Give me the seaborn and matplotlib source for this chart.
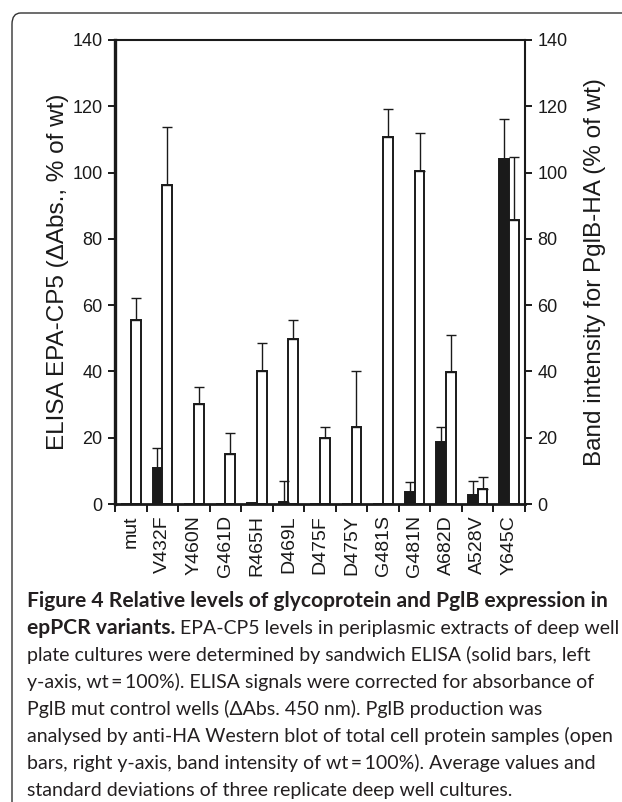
import numpy as np
import pandas as pd
import matplotlib
matplotlib.use("Agg")
from matplotlib import pyplot as plt
from matplotlib.patches import FancyBboxPatch
import seaborn as sns

# values
variants = ["mut", "V432F", "Y460N", "G461D", "R465H", "D469L", "D475F",
            "D475Y", "G481S", "G481N", "A682D", "A528V", "Y645C"]
elisa = [0.0, 11.0, 0.0, 0.0, 0.3, 0.6, 0.0, 0.0, 0.0, 3.6, 18.8, 2.7, 104.2]
elisa_sd = [np.nan, 5.8, np.nan, np.nan, np.nan, 6.2, np.nan, np.nan, np.nan,
            3.1, 4.5, 4.3, 12.1]
band = [55.6, 96.2, 30.1, 15.0, 40.2, 49.8, 19.9, 23.1, 110.8, 100.5, 39.9,
        4.5, 85.8]
band_sd = [6.6, 17.7, 5.3, 6.3, 8.5, 5.8, 3.2, 17.1, 8.5, 11.3, 11.2, 3.5, 18.9]
y_ticks = [0, 20, 40, 60, 80, 100, 120, 140]

left_label = "ELISA EPA-CP5 (\u0394Abs., % of wt)"
right_label = "Band intensity for PglB-HA (% of wt)"

caption_title = "Figure 4 Relative levels of glycoprotein and PglB expression in"
caption_bold2 = "epPCR variants."
caption_rest = [
    " EPA-CP5 levels in periplasmic extracts of deep well",
    "plate cultures were determined by sandwich ELISA (solid bars, left",
    "y-axis, wt\u2009=\u2009100%). ELISA signals were corrected for absorbance of",
    "PglB mut control wells (\u0394Abs. 450 nm). PglB production was",
    "analysed by anti-HA Western blot of total cell protein samples (open",
    "bars, right y-axis, band intensity of wt\u2009=\u2009100%). Average values and",
    "standard deviations of three replicate deep well cultures.",
]

sns.set_theme(style="ticks")
plt.rcParams["font.family"] = ["Liberation Sans", "DejaVu Sans"]

ink = "#1a1a1a"
W, H = 622, 802

df = pd.DataFrame({
    "variant": variants * 2,
    "value": elisa + band,
    "assay": ["ELISA"] * len(variants) + ["Band"] * len(variants),
})

fig = plt.figure(figsize=(W / 100, H / 100), dpi=100)
ax = fig.add_axes([115 / W, 1 - 504 / H, 410 / W, 464 / H])

sns.barplot(data=df, x="variant", y="value", hue="assay",
            hue_order=["ELISA", "Band"],
            palette={"ELISA": ink, "Band": "white"},
            width=0.62, edgecolor=ink, linewidth=1.4,
            errorbar=None, legend=False, ax=ax)

# upper-only SD bars on top of every bar
bar_sets = list(ax.containers)[:2]
for cont, sd in zip(bar_sets, [elisa_sd, band_sd]):
    xs = np.array([p.get_x() + p.get_width() / 2 for p in cont])
    hs = np.array([p.get_height() for p in cont])
    sd = np.array(sd, dtype=float)
    ok = ~np.isnan(sd)
    ax.errorbar(xs[ok], hs[ok], yerr=[np.zeros(ok.sum()), sd[ok]],
                fmt="none", ecolor=ink, elinewidth=1.0, capsize=3.4,
                capthick=1.0, zorder=5)

ax.set_xlim(-0.5, len(variants) - 0.5)
ax.set_ylim(0, 140)
ax.set_yticks(y_ticks)
ax.set_xlabel("")
ax.set_ylabel(left_label, fontsize=17.5, color=ink, labelpad=2)
ax.set_xticks(range(len(variants)))
ax.set_xticklabels(variants, rotation=90, fontsize=14, color=ink)
ax.set_xticks(np.arange(-0.5, len(variants), 1), minor=True)
ax.tick_params(axis="x", which="major", length=0, pad=8)
ax.tick_params(axis="x", which="minor", length=6, width=1.4, color=ink,
               direction="out")
ax.tick_params(axis="y", length=5, width=1.4, color=ink, labelsize=13,
               labelcolor=ink, pad=4)
for side, lw in [("left", 2.4), ("bottom", 2.0), ("top", 1.5), ("right", 1.5)]:
    ax.spines[side].set_visible(True)
    ax.spines[side].set_linewidth(lw)
    ax.spines[side].set_color(ink)
    ax.spines[side].set_zorder(6)

ax2 = ax.twinx()
ax2.set_ylim(0, 140)
ax2.set_yticks(y_ticks)
ax2.set_ylabel(right_label, fontsize=17.5, color=ink, labelpad=12)
ax2.tick_params(axis="y", length=5, width=1.4, color=ink, labelsize=13,
                labelcolor=ink, pad=4)
for side in ["left", "bottom", "top", "right"]:
    ax2.spines[side].set_visible(False)

# figure frame (cropped box of the journal page)
frame = FancyBboxPatch((12 / W, -0.2), 1.2, 1 - 13 / H + 0.2,
                       boxstyle="round,pad=0,rounding_size=0.014",
                       transform=fig.transFigure, fill=False,
                       edgecolor="#333333", linewidth=1.0, clip_on=False)
fig.add_artist(frame)

# caption
cap_color = "#231f20"
cap_font = ["Lato", "DejaVu Sans"]
x0 = 27 / W
line_h = 27.0
base0 = 607
renderer = fig.canvas.get_renderer()

t = fig.text(x0, 1 - base0 / H, caption_title, fontsize=14, fontweight="bold",
             family=cap_font, color=cap_color, va="baseline")
fs_bold = 14 * 582 / t.get_window_extent(renderer).width
t.set_fontsize(fs_bold)

probe = fig.text(0, 0, caption_rest[4], fontsize=14, family=cap_font)
fs_reg = 14 * 586 / probe.get_window_extent(renderer).width
probe.remove()

t2 = fig.text(x0, 1 - (base0 + line_h) / H, caption_bold2, fontsize=fs_bold,
              fontweight="bold", family=cap_font, color=cap_color,
              va="baseline")
bb = t2.get_window_extent(renderer)
fig.text(bb.x1 / W, 1 - (base0 + line_h) / H, caption_rest[0], fontsize=fs_reg,
         family=cap_font, color=cap_color, va="baseline")
for i, line in enumerate(caption_rest[1:]):
    fig.text(x0, 1 - (base0 + line_h * (i + 2)) / H, line, fontsize=fs_reg,
             family=cap_font, color=cap_color, va="baseline")

fig.savefig("out.png", dpi=100)
